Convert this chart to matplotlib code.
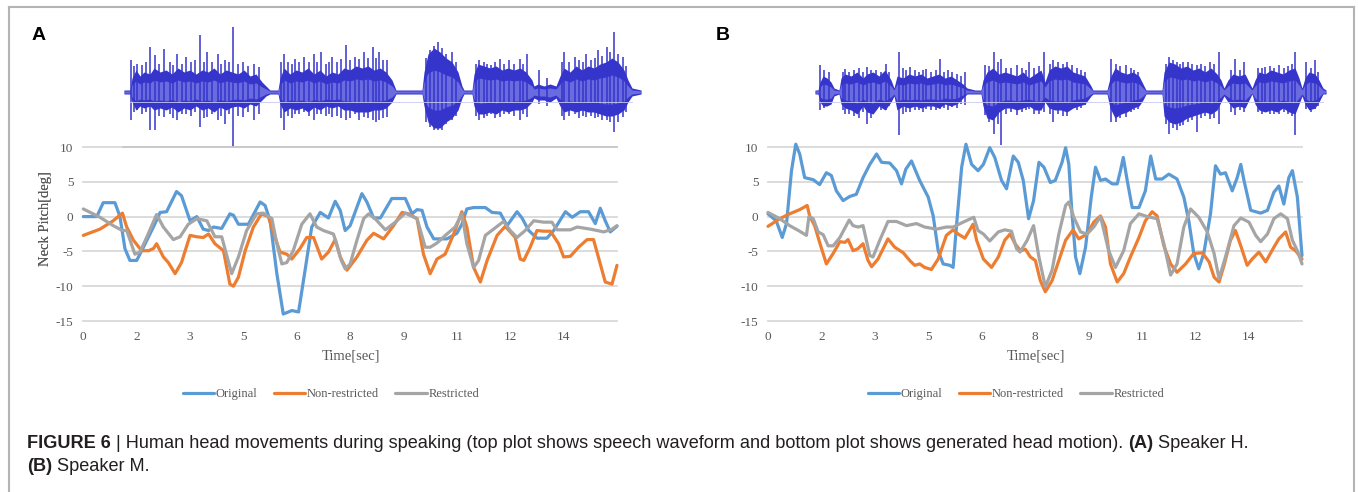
import numpy as np
import matplotlib
matplotlib.use("Agg")
import matplotlib.pyplot as plt
from matplotlib.lines import Line2D

# ---------------- data ----------------
X_TICKS = [0, 1.5, 3, 4.5, 6, 7.5, 9, 10.5, 12, 13.5]
X_TICK_LABELS = ["0", "2", "3", "5", "6", "8", "9", "11", "12", "14"]
Y_TICKS = [-15, -10, -5, 0, 5, 10]
Y_TICK_LABELS = ["-15", "-10", "-5", "0", "5", "10"]
SERIES_NAMES = ["Original", "Non-restricted", "Restricted"]

A_ORIGINAL = [(0, 0), (0.38, 0), (0.56, 2.0), (0.89, 2.0), (1.03, 0), (1.17, -4.6), (1.31, -6.3), (1.5, -6.3),
              (1.69, -4.4), (1.97, -1.5), (2.16, 0.6), (2.34, 0.7), (2.62, 3.6), (2.76, 3.0), (3.0, -0.6),
              (3.19, 0), (3.37, -1.8), (3.52, -2.0), (3.66, -1.5), (3.89, -1.7), (4.12, 0.4), (4.22, 0.2),
              (4.36, -1.1), (4.64, -1.1), (4.97, 2.1), (5.11, 1.6), (5.25, -0.6), (5.44, -8.2), (5.62, -14.0),
              (5.86, -13.5), (6.05, -13.7), (6.23, -7.8), (6.42, -1.5), (6.66, 0.6), (6.89, -0.2), (7.08, 2.2),
              (7.22, 0.9), (7.36, -2.0), (7.5, -1.3), (7.83, 3.3), (7.97, 2.1), (8.16, -0.2), (8.35, -0.2),
              (8.67, 2.6), (9.05, 2.6), (9.24, 0.4), (9.38, 1.0), (9.52, 0.9), (9.66, -1.5), (9.85, -3.2),
              (10.22, -3.2), (10.5, -2.4), (10.64, -1.1), (10.78, 1.1), (10.97, 1.3), (11.3, 1.3), (11.49, 0.6),
              (11.72, 0.5), (11.91, -1.3), (12.19, 0.7), (12.33, -0.2), (12.52, -2.0), (12.75, -3.1),
              (13.03, -3.1), (13.22, -2.0), (13.55, 0.7), (13.74, -0.1), (13.97, 0.7), (14.2, 0.7),
              (14.39, -1.0), (14.53, 1.2), (14.67, -0.6), (14.81, -2.2), (15.0, -1.4)]
A_NONRESTRICTED = [(0, -2.7), (0.47, -1.8), (0.84, -0.6), (1.1, 0.5), (1.22, -1.5), (1.41, -3.4), (1.64, -4.9),
                   (1.83, -4.9), (1.97, -4.6), (2.06, -3.9), (2.25, -5.8), (2.39, -6.6), (2.58, -8.2),
                   (2.76, -6.6), (3.0, -2.7), (3.19, -2.9), (3.37, -3.0), (3.52, -2.5), (3.7, -3.9),
                   (3.94, -4.9), (4.12, -9.7), (4.22, -10.0), (4.36, -8.7), (4.55, -4.9), (4.78, -1.5),
                   (5.01, 0.4), (5.2, 0), (5.39, -3.0), (5.53, -5.1), (5.72, -5.4), (5.86, -6.1), (6.09, -4.6),
                   (6.28, -3.0), (6.47, -3.0), (6.7, -6.1), (6.89, -5.1), (7.08, -3.3), (7.22, -5.8),
                   (7.41, -7.7), (7.69, -5.8), (7.97, -3.4), (8.16, -2.4), (8.44, -3.2), (8.72, -1.3),
                   (8.96, 0.6), (9.14, 0.4), (9.38, -0.3), (9.56, -5.4), (9.75, -8.2), (9.94, -6.1),
                   (10.17, -5.4), (10.41, -2.5), (10.64, 0.7), (10.78, -1.5), (10.97, -7.3), (11.16, -9.4),
                   (11.35, -6.3), (11.63, -2.7), (11.86, -1.4), (12.14, -3.0), (12.28, -6.1), (12.38, -6.3),
                   (12.56, -4.4), (12.75, -2.0), (12.94, -2.1), (13.13, -2.1), (13.36, -3.9), (13.5, -5.8),
                   (13.69, -5.7), (13.92, -4.4), (14.16, -3.3), (14.34, -3.3), (14.53, -6.8), (14.67, -9.4),
                   (14.86, -9.7), (15.0, -7.0)]
A_RESTRICTED = [(0, 1.1), (0.47, -0.1), (0.84, -1.3), (1.1, -2.0), (1.22, -2.0), (1.45, -5.4), (1.59, -5.1),
                (1.78, -3.0), (2.06, 0.3), (2.25, -1.5), (2.53, -3.3), (2.72, -2.9), (2.95, -1.1), (3.19, -0.3),
                (3.47, -0.6), (3.7, -2.9), (3.89, -2.9), (4.17, -8.2), (4.36, -5.8), (4.59, -2.0), (4.87, 0.4),
                (5.06, 0.5), (5.3, -0.3), (5.44, -3.9), (5.58, -6.8), (5.72, -6.6), (5.9, -4.9), (6.14, -1.1),
                (6.37, 0.4), (6.56, -1.5), (6.75, -2.0), (7.03, -2.5), (7.12, -3.9), (7.25, -6.3), (7.36, -7.5),
                (7.5, -6.8), (7.69, -3.4), (7.88, -0.3), (8.02, 0.4), (8.2, -0.3), (8.49, -1.9), (8.77, -0.8),
                (9.05, 0.5), (9.38, -0.3), (9.61, -4.4), (9.75, -4.4), (9.94, -3.8), (10.22, -2.5),
                (10.45, -1.5), (10.64, 0.4), (10.78, -3.9), (10.97, -7.3), (11.11, -6.3), (11.3, -2.7),
                (11.53, -1.8), (11.81, -0.7), (12.0, -2.0), (12.19, -3.0), (12.42, -2.0), (12.66, -0.6),
                (12.94, -0.8), (13.17, -0.8), (13.31, -1.9), (13.69, -1.9), (13.88, -1.5), (14.25, -1.8),
                (14.63, -2.2), (14.86, -1.8), (15.0, -1.3)]

B_ORIGINAL = [(0, 0.4), (0.23, -0.6), (0.4, -3.0), (0.52, -1.0), (0.66, 6.6), (0.78, 10.4), (0.89, 9.0),
              (1.03, 5.6), (1.27, 5.3), (1.45, 4.6), (1.64, 6.3), (1.78, 5.9), (1.92, 3.7), (2.11, 2.3),
              (2.3, 2.9), (2.48, 3.2), (2.67, 5.6), (2.86, 7.5), (3.05, 9.0), (3.19, 7.8), (3.42, 7.7),
              (3.61, 6.6), (3.75, 4.7), (3.87, 6.8), (4.03, 8.0), (4.26, 5.2), (4.5, 2.8), (4.64, 0.1),
              (4.78, -4.9), (4.92, -6.8), (5.11, -7.0), (5.2, -7.3), (5.3, -1.0), (5.44, 7.1), (5.56, 10.4),
              (5.72, 7.5), (5.9, 6.6), (6.05, 7.5), (6.23, 9.9), (6.37, 8.5), (6.56, 5.2), (6.7, 4.0),
              (6.89, 8.7), (7.03, 7.8), (7.17, 5.2), (7.32, -0.3), (7.46, 2.3), (7.61, 7.8), (7.75, 7.1),
              (7.93, 4.9), (8.07, 5.2), (8.26, 7.8), (8.36, 9.9), (8.45, 7.5), (8.54, 0.4), (8.64, -5.8),
              (8.76, -8.2), (8.92, -4.4), (9.08, 2.8), (9.2, 7.1), (9.34, 5.2), (9.48, 5.4), (9.67, 4.7),
              (9.81, 4.7), (9.9, 6.6), (9.98, 8.5), (10.09, 5.2), (10.23, 1.3), (10.42, 1.3), (10.6, 3.7),
              (10.75, 8.7), (10.89, 5.4), (11.07, 5.4), (11.26, 6.1), (11.49, 5.4), (11.68, 2.8),
              (11.82, -0.6), (11.96, -5.3), (12.1, -7.5), (12.24, -5.3), (12.43, 0.4), (12.57, 7.3),
              (12.71, 6.1), (12.85, 6.3), (13.04, 3.7), (13.18, 5.6), (13.28, 7.5), (13.37, 5.2),
              (13.56, 0.9), (13.84, 0.5), (14.03, 0.9), (14.21, 3.5), (14.35, 4.4), (14.49, 1.8),
              (14.63, 5.6), (14.73, 6.6), (14.87, 2.8), (15.0, -5.6)]
B_NONRESTRICTED = [(0, -1.4), (0.33, -0.3), (0.61, 0.4), (0.89, 1.0), (1.1, 1.6), (1.17, 0.1), (1.31, -1.3),
                   (1.45, -3.7), (1.64, -6.8), (1.83, -5.3), (2.02, -3.6), (2.16, -3.7), (2.25, -3.3),
                   (2.39, -4.9), (2.53, -4.6), (2.67, -3.9), (2.81, -6.3), (2.91, -7.2), (3.09, -6.1),
                   (3.37, -3.2), (3.56, -4.4), (3.8, -5.2), (3.98, -6.3), (4.12, -7.0), (4.26, -6.8),
                   (4.4, -7.3), (4.59, -7.6), (4.78, -6.1), (5.01, -2.7), (5.2, -1.9), (5.34, -2.5),
                   (5.53, -3.1), (5.76, -1.1), (5.86, -3.4), (6.05, -6.1), (6.28, -7.3), (6.47, -5.8),
                   (6.65, -3.4), (6.8, -2.5), (6.94, -3.9), (7.09, -4.9), (7.23, -4.7), (7.37, -5.8),
                   (7.51, -6.3), (7.65, -9.2), (7.79, -10.8), (7.98, -9.2), (8.17, -6.3), (8.36, -3.4),
                   (8.57, -1.9), (8.73, -3.2), (8.96, -2.5), (9.15, -0.8), (9.34, 0.1), (9.48, -1.5),
                   (9.62, -6.8), (9.81, -9.4), (9.99, -8.2), (10.18, -5.8), (10.42, -3.0), (10.6, -0.6),
                   (10.79, 0.7), (10.93, 0.1), (11.12, -4.2), (11.31, -6.8), (11.49, -8.0), (11.73, -6.8),
                   (11.96, -5.3), (12.2, -5.2), (12.39, -6.5), (12.53, -8.7), (12.67, -9.4), (12.81, -7.0),
                   (12.99, -3.4), (13.13, -2.0), (13.28, -4.2), (13.46, -7.0), (13.6, -6.1), (13.79, -5.1),
                   (13.98, -6.5), (14.21, -4.4), (14.35, -3.2), (14.54, -2.2), (14.68, -4.4), (14.82, -4.9),
                   (15.0, -6.1)]
B_RESTRICTED = [(0, 0.6), (0.33, -0.3), (0.61, -1.3), (0.89, -2.1), (1.08, -2.7), (1.15, 0.0), (1.27, -0.3),
                (1.41, -2.2), (1.55, -2.6), (1.69, -4.2), (1.83, -4.2), (2.02, -3.0), (2.28, -0.5),
                (2.39, -1.3), (2.53, -1.5), (2.67, -1.3), (2.86, -5.6), (2.95, -5.8), (3.14, -3.4),
                (3.37, -0.7), (3.61, -0.7), (3.89, -1.3), (4.17, -1.0), (4.4, -1.5), (4.73, -1.8),
                (5.01, -1.5), (5.2, -1.5), (5.48, -0.8), (5.78, -0.1), (5.9, -2.0), (6.05, -2.5), (6.23, -3.5),
                (6.47, -2.2), (6.65, -1.9), (6.84, -2.1), (6.98, -4.6), (7.08, -5.1), (7.28, -3.4),
                (7.46, -1.3), (7.61, -5.8), (7.79, -10.1), (7.98, -7.7), (8.17, -2.5), (8.36, 1.6),
                (8.45, 2.1), (8.59, -0.1), (8.78, -2.2), (8.96, -2.5), (9.15, -1.5), (9.34, 0.0), (9.57, -4.9),
                (9.76, -7.3), (9.99, -4.9), (10.18, -1.0), (10.42, 0.4), (10.65, 0.0), (10.93, -0.3),
                (11.12, -3.9), (11.31, -8.4), (11.49, -6.8), (11.68, -1.5), (11.87, 1.1), (12.1, -0.1),
                (12.34, -2.2), (12.53, -5.3), (12.67, -8.9), (12.85, -5.8), (13.09, -1.3), (13.28, -0.2),
                (13.51, -0.8), (13.7, -2.7), (13.84, -3.6), (14.03, -2.5), (14.21, -0.3), (14.4, 0.4),
                (14.59, -0.3), (14.73, -3.4), (14.87, -4.9), (15.0, -6.8)]

# speech waveform envelopes: (position, upper amplitude, lower amplitude)
WAVE_A_ENV = [(0, 2, 2), (6, 2, 2), (8, 14, 10), (12, 22, 18), (16, 16, 14), (20, 20, 16), (26, 18, 14),
              (30, 24, 18), (36, 20, 16), (42, 22, 18), (48, 18, 15), (54, 24, 20), (60, 20, 16), (66, 22, 18),
              (72, 18, 14), (78, 22, 18), (84, 20, 16), (90, 24, 20), (96, 18, 15), (102, 22, 18),
              (108, 20, 15), (114, 18, 14), (120, 22, 16), (126, 16, 12), (132, 18, 14), (138, 10, 8),
              (142, 6, 4), (146, 2, 2), (154, 2, 2), (156, 14, 12), (160, 24, 20), (166, 18, 16),
              (172, 22, 18), (178, 20, 16), (184, 24, 20), (190, 18, 15), (196, 22, 18), (202, 16, 14),
              (208, 20, 16), (214, 18, 14), (220, 24, 18), (226, 22, 18), (232, 26, 20), (238, 24, 20),
              (244, 26, 20), (250, 22, 18), (256, 24, 18), (262, 20, 16), (268, 12, 10), (272, 2, 2),
              (298, 2, 2), (300, 20, 14), (304, 38, 30), (310, 44, 36), (316, 40, 36), (322, 34, 30),
              (328, 30, 26), (334, 20, 18), (338, 6, 6), (340, 2, 2), (348, 2, 2), (350, 18, 14),
              (354, 28, 22), (360, 26, 22), (366, 24, 20), (372, 26, 22), (378, 22, 18), (384, 24, 20),
              (390, 22, 18), (396, 24, 18), (402, 20, 16), (408, 12, 10), (410, 6, 6), (414, 8, 8),
              (420, 6, 8), (426, 8, 10), (432, 6, 6), (436, 16, 14), (440, 24, 20), (446, 20, 18),
              (452, 26, 20), (458, 22, 18), (464, 26, 20), (470, 24, 20), (476, 28, 22), (482, 30, 24),
              (488, 34, 24), (494, 30, 22), (500, 22, 18), (504, 12, 10), (508, 4, 4), (517, 2, 2)]
WAVE_A_SPIKES = [(7, 32, 28), (10, 26, 20), (13, 28, 18), (18, 27, 22), (22, 30, 20), (26, 45, 38),
                 (31, 37, 38), (35, 28, 24), (40, 43, 25), (46, 30, 22), (49, 27, 26), (53, 38, 28),
                 (58, 28, 22), (62, 35, 22), (67, 30, 24), (71, 32, 20), (76, 57, 35), (80, 30, 26),
                 (83, 40, 25), (88, 30, 22), (94, 38, 28), (97, 28, 24), (101, 32, 32), (105, 30, 22),
                 (109, 65, 55), (114, 28, 24), (119, 30, 25), (124, 26, 20), (130, 28, 28), (135, 25, 22),
                 (157, 30, 26), (160, 38, 38), (164, 30, 24), (168, 28, 26), (171, 33, 22), (175, 30, 22),
                 (180, 35, 20), (185, 30, 24), (190, 38, 28), (193, 30, 22), (197, 40, 22), (202, 28, 24),
                 (205, 30, 22), (208, 35, 25), (213, 30, 24), (217, 33, 26), (222, 47, 28), (226, 32, 26),
                 (231, 35, 22), (235, 33, 28), (240, 40, 25), (244, 34, 26), (249, 45, 28), (252, 34, 30),
                 (255, 40, 28), (259, 32, 26), (263, 32, 25), (302, 34, 30), (306, 42, 35), (310, 46, 38),
                 (314, 50, 38), (318, 44, 38), (322, 38, 32), (328, 40, 28), (332, 30, 24),
                 (352, 28, 24), (355, 32, 28), (360, 30, 26), (363, 28, 24), (367, 27, 22), (371, 30, 26),
                 (376, 33, 25), (380, 28, 22), (385, 32, 22), (390, 28, 24), (396, 33, 28), (399, 28, 22),
                 (403, 38, 25), (415, 22, 12), (423, 14, 14), (438, 30, 24), (440, 40, 28), (445, 30, 24),
                 (451, 35, 22), (455, 32, 26), (459, 30, 24), (462, 38, 25), (467, 32, 24), (471, 34, 26),
                 (474, 42, 25), (478, 36, 28), (483, 45, 28), (486, 40, 30), (490, 60, 40), (494, 38, 30),
                 (499, 35, 25), (502, 26, 20)]
WAVE_B_ENV = [(0, 2, 2), (3, 2, 2), (5, 10, 10), (8, 16, 14), (12, 14, 14), (16, 10, 12), (19, 4, 4),
              (24, 2, 2), (26, 14, 12), (30, 18, 16), (36, 16, 18), (42, 20, 22), (48, 14, 14), (52, 18, 20),
              (58, 20, 22), (64, 16, 14), (70, 22, 18), (76, 12, 10), (79, 4, 4), (82, 16, 18), (88, 14, 14),
              (94, 18, 16), (100, 16, 14), (106, 18, 16), (112, 14, 14), (118, 16, 14), (124, 18, 16),
              (130, 14, 12), (136, 16, 14), (142, 12, 12), (148, 8, 6), (152, 4, 2), (160, 2, 2), (166, 2, 2),
              (168, 12, 14), (172, 20, 26), (178, 24, 28), (184, 18, 20), (190, 20, 16), (196, 18, 16),
              (202, 16, 18), (208, 20, 16), (214, 14, 14), (220, 18, 18), (226, 22, 18), (230, 10, 10),
              (234, 22, 16), (240, 26, 18), (246, 24, 18), (252, 26, 20), (258, 20, 16), (264, 18, 14),
              (270, 16, 12), (276, 6, 4), (278, 2, 2), (292, 2, 2), (295, 14, 16), (300, 24, 26),
              (306, 20, 22), (312, 18, 20), (318, 20, 16), (324, 16, 14), (328, 8, 8), (331, 2, 2),
              (347, 2, 2), (349, 20, 24), (354, 30, 30), (360, 28, 32), (366, 24, 30), (372, 26, 26),
              (378, 22, 24), (384, 24, 22), (390, 20, 20), (396, 24, 22), (402, 18, 18), (406, 12, 10),
              (409, 4, 4), (413, 12, 10), (418, 18, 16), (424, 16, 14), (430, 18, 16), (434, 10, 8),
              (437, 4, 2), (440, 12, 12), (444, 20, 18), (450, 18, 20), (456, 22, 18), (462, 20, 20),
              (468, 18, 16), (474, 22, 20), (480, 24, 22), (484, 14, 12), (487, 4, 4), (490, 14, 12),
              (494, 20, 18), (500, 18, 16), (504, 12, 10), (508, 4, 2), (511, 2, 2)]
WAVE_B_SPIKES = [(5, 27, 18), (9, 22, 16), (14, 20, 13), (28, 20, 18), (30, 23, 22), (34, 20, 22),
                 (39, 22, 24), (44, 24, 26), (48, 20, 20), (52, 25, 32), (56, 22, 26), (61, 22, 18),
                 (66, 20, 18), (71, 28, 18), (74, 20, 14), (84, 40, 43), (88, 24, 22), (91, 22, 20),
                 (95, 25, 20), (100, 22, 18), (104, 20, 18), (108, 22, 20), (111, 23, 17), (116, 20, 18),
                 (121, 22, 18), (125, 33, 17), (129, 20, 16), (133, 22, 18), (137, 20, 15), (142, 18, 16),
                 (146, 16, 12), (150, 20, 13), (170, 27, 23), (174, 26, 30), (179, 40, 42), (183, 30, 32),
                 (186, 33, 53), (191, 24, 22), (196, 24, 20), (202, 27, 23), (207, 24, 20), (211, 22, 18),
                 (214, 30, 17), (219, 24, 22), (224, 26, 22), (229, 40, 20), (235, 28, 22), (238, 32, 30),
                 (243, 30, 22), (248, 28, 24), (252, 30, 24), (257, 27, 17), (262, 24, 18), (266, 22, 16),
                 (270, 20, 13), (296, 33, 30), (301, 28, 30), (305, 26, 26), (311, 27, 25), (316, 24, 20),
                 (319, 22, 18), (323, 20, 17), (351, 28, 32), (354, 35, 42), (358, 32, 36), (362, 30, 38),
                 (365, 28, 34), (368, 30, 33), (373, 30, 30), (377, 28, 28), (382, 27, 40), (386, 28, 26),
                 (390, 26, 24), (395, 30, 27), (399, 28, 26), (404, 40, 32), (416, 22, 20), (420, 33, 23),
                 (425, 22, 18), (429, 30, 20), (443, 24, 20), (447, 24, 22), (450, 25, 20), (455, 26, 22),
                 (459, 24, 22), (464, 27, 22), (469, 24, 20), (473, 26, 22), (477, 28, 24), (480, 40, 43),
                 (491, 30, 17), (496, 24, 20), (500, 32, 17), (503, 20, 14)]

CAPTION_LINE1 = [("FIGURE 6", "bold"), ("| Human head movements during speaking (top plot shows speech waveform "
                                         "and bottom plot shows generated head motion).", "normal"),
                 ("(A)", "bold"), ("Speaker H.", "normal")]
CAPTION_LINE2 = [("(B)", "bold"), ("Speaker M.", "normal")]

# ---------------- style ----------------
W, H = 1358, 492
COLORS = ["#5b9bd5", "#ed7d31", "#a5a5a5"]
TEXT_GRAY = "#595959"
GRID = "#d9d9d9"
SERIF = "Liberation Serif"
SANS = "Liberation Sans"
WAVE_DARK = "#3535cc"
WAVE_LIGHT = "#6b6be0"

fig = plt.figure(figsize=(W / 100, H / 100), dpi=100)


def fbox(x0, y0, x1, y1):
    return [x0 / W, 1 - y1 / H, (x1 - x0) / W, (y1 - y0) / H]


def draw_panel(series, left, right, wave_env, wave_spikes, wave_left, letter, legend_cx):
    ax = fig.add_axes(fbox(left, 147, right, 321))
    ax.set_xlim(0, 15)
    ax.set_ylim(-15, 10)
    for s in ax.spines.values():
        s.set_visible(False)
    ax.set_yticks(Y_TICKS)
    ax.set_yticklabels(Y_TICK_LABELS)
    ax.set_xticks(X_TICKS)
    ax.set_xticklabels(X_TICK_LABELS)
    ax.tick_params(length=0, labelsize=9.5, labelcolor=TEXT_GRAY, pad=7)
    for lab in ax.get_xticklabels() + ax.get_yticklabels():
        lab.set_fontfamily(SERIF)
    ax.yaxis.grid(True, color=GRID, lw=1.3)
    ax.set_axisbelow(True)
    for gl in ax.get_ygridlines():
        gl.set_clip_on(False)
    handles = []
    for pts, color, name in zip(series, COLORS, SERIES_NAMES):
        t = [p[0] for p in pts]
        v = [p[1] for p in pts]
        ln, = ax.plot(t, v, color=color, lw=2.3, label=name, clip_on=False,
                      solid_joinstyle="round", solid_capstyle="round")
        handles.append(ln)
    ax.set_ylabel("Neck Pitch[deg]", family=SERIF, fontsize=10.5, color=TEXT_GRAY)
    ax.yaxis.set_label_coords((52 - left) / (right - left), (321 - 219) / 174)
    ax.set_xlabel("Time[sec]", family=SERIF, fontsize=10.5, color=TEXT_GRAY)
    ax.xaxis.set_label_coords(0.5016, (321 - 350) / 174)
    leg = fig.legend(handles=handles, loc="center", bbox_to_anchor=(legend_cx / W, 1 - 394 / H),
                     ncol=3, frameon=False, handlelength=2.5, handletextpad=0.15, columnspacing=1.3,
                     prop={"family": SERIF, "size": 9})
    for txt in leg.get_texts():
        txt.set_color(TEXT_GRAY)

    # waveform
    u = [e[0] for e in wave_env]
    up = np.array([e[1] for e in wave_env], float)
    dn = np.array([e[2] for e in wave_env], float)
    length = u[-1]
    wx = fig.add_axes(fbox(wave_left, 22, wave_left + length, 152))
    wx.set_xlim(0, length)
    wx.set_ylim(-60, 70)
    wx.axis("off")
    wx.patch.set_alpha(0)
    wx.fill_between(u, up, -dn, color=WAVE_DARK, lw=0)
    su = [s[0] for s in wave_spikes]
    sup = [s[1] for s in wave_spikes]
    sdn = [-s[2] for s in wave_spikes]
    wx.vlines(su, sdn, sup, color=WAVE_DARK, lw=1.1)
    wx.fill_between(u, up * 0.5, -dn * 0.5, color=WAVE_LIGHT, lw=0)
    wx.plot([u[1], u[-2]], [-10, -10], color="#c9c9f0", lw=0.6)

    fig.text((left - 45) / W, 1 - 35 / H, letter, family=SANS, fontweight="bold", fontsize=14,
             ha="center", va="center", color="black")
    return ax


draw_panel([A_ORIGINAL, A_NONRESTRICTED, A_RESTRICTED], 83.3, 617, WAVE_A_ENV, WAVE_A_SPIKES, 124, "A", 331)
draw_panel([B_ORIGINAL, B_NONRESTRICTED, B_RESTRICTED], 768, 1302, WAVE_B_ENV, WAVE_B_SPIKES, 815, "B", 1016)

# frame of the figure panel
for xs, ys in [([9, 1354], [7, 7]), ([9, 9], [7, 492]), ([1354, 1354], [7, 492])]:
    fig.add_artist(Line2D([x / W for x in xs], [1 - y / H for y in ys], color="#b4b4b4", lw=1.5,
                          transform=fig.transFigure))
fig.add_artist(Line2D([123 / W, 617 / W], [1 - 147 / H, 1 - 147 / H], color="#c8c8c8", lw=1.3,
                      transform=fig.transFigure))

# caption
renderer = fig.canvas.get_renderer()


def text_width(s, size, weight):
    t = fig.text(0, 0, s, family=SANS, fontsize=size, fontweight=weight)
    w = t.get_window_extent(renderer).width
    t.remove()
    return w


def draw_runs(runs, x, y, size):
    space = text_width("a a", size, "normal") - text_width("aa", size, "normal")
    for s, weight in runs:
        t = fig.text(x / W, 1 - y / H, s, family=SANS, fontsize=size, fontweight=weight,
                     ha="left", va="baseline", color="#231f20")
        x += t.get_window_extent(renderer).width + space


base = 12.0
total = sum(text_width(s, base, w) for s, w in CAPTION_LINE1)
total += 3 * (text_width("a a", base, "normal") - text_width("aa", base, "normal"))
cap_size = base * (1251 - 27) / total
draw_runs(CAPTION_LINE1, 27, 448, cap_size)
draw_runs(CAPTION_LINE2, 27, 471, cap_size)

fig.savefig("out.png", dpi=100)
